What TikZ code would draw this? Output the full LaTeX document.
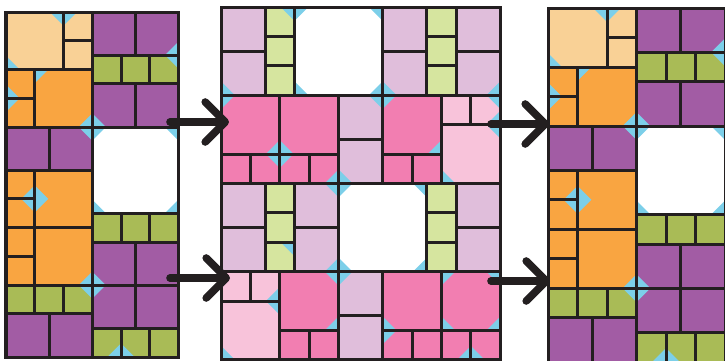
\documentclass[tikz,border=0pt]{standalone}
\usepackage{tikz}
\usetikzlibrary{arrows.meta}

\definecolor{peach}{HTML}{F9D196}
\definecolor{orng}{HTML}{F9A541}
\definecolor{purp}{HTML}{A25CA4}
\definecolor{olive}{HTML}{A9BB56}
\definecolor{corner}{HTML}{7CCFE9}
\definecolor{lilac}{HTML}{E0BEDB}
\definecolor{lime}{HTML}{D6E59F}
\definecolor{rose}{HTML}{F27EB1}
\definecolor{blush}{HTML}{F8C3DA}
\definecolor{seamc}{HTML}{231F20}

% cells of the side block: colour/x1/y1/x2/y2 (units, y down)
\def\sidecells{peach/0/0/2/2, peach/2/0/3/1, peach/2/1/3/2,%
  orng/0/2/1/3, orng/0/3/1/4, orng/1/2/3/4,%
  purp/0/4/1.5/5.5, purp/1.5/4/3/5.5,%
  orng/0/5.5/1/6.5, orng/0/6.5/1/7.5, orng/1/5.5/3/7.5,%
  orng/0/7.5/1/8.5, orng/0/8.5/1/9.5, orng/1/7.5/3/9.5,%
  olive/0/9.5/1/10.5, olive/1/9.5/2/10.5, olive/2/9.5/3/10.5,%
  purp/0/10.5/1.5/12, purp/1.5/10.5/3/12,%
  purp/3/0/4.5/1.5, purp/4.5/0/6/1.5,%
  olive/3/1.5/4/2.5, olive/4/1.5/5/2.5, olive/5/1.5/6/2.5,%
  purp/3/2.5/4.5/4, purp/4.5/2.5/6/4,%
  white/3/4/6/7,%
  olive/3/7/4/8, olive/4/7/5/8, olive/5/7/6/8,%
  purp/3/8/4.5/9.5, purp/4.5/8/6/9.5,%
  purp/3/9.5/4.5/11, purp/4.5/9.5/6/11,%
  olive/3/11/4/12, olive/4/11/5/12, olive/5/11/6/12}
% corner triangles: x/y/dx/dy
\def\sidetris{2/0/-1/1, 2/0/1/1, 0/2/1/-1, 0/3/1/-1, 0/3/1/1, 1/2/1/1,%
  3/4/-1/-1, 3/4/-1/1, 3/4/1/-1, 3/4/1/1, 6/4/-1/1, 6/1.5/-1/-1, 6/1.5/-1/1,%
  1/6.5/-1/-1, 1/6.5/-1/1, 1/6.5/1/-1, 1/6.5/1/1, 3/7/1/-1, 6/7/-1/-1,%
  3/9.5/-1/-1, 3/9.5/-1/1, 3/9.5/1/-1, 3/9.5/1/1, 4/12/-1/-1, 4/12/1/-1}

% cells of the middle block
\def\midcells{lilac/0/0/1.5/1.5, lilac/0/1.5/1.5/3,%
  lime/1.5/0/2.5/1, lime/1.5/1/2.5/2, lime/1.5/2/2.5/3,%
  white/2.5/0/5.5/3,%
  lilac/5.5/0/7/1.5, lilac/5.5/1.5/7/3,%
  lime/7/0/8/1, lime/7/1/8/2, lime/7/2/8/3,%
  lilac/8/0/9.5/1.5, lilac/8/1.5/9.5/3,%
  rose/0/3/2/5, rose/2/3/4/5,%
  rose/0/5/1/6, rose/1/5/2/6, rose/2/5/3/6, rose/3/5/4/6,%
  lilac/4/3/5.5/4.5, lilac/4/4.5/5.5/6,%
  rose/5.5/3/7.5/5, rose/5.5/5/6.5/6, rose/6.5/5/7.5/6,%
  blush/7.5/3/8.5/4, blush/8.5/3/9.5/4, blush/7.5/4/9.5/6,%
  lilac/0/6/1.5/7.5, lilac/0/7.5/1.5/9,%
  lime/1.5/6/2.5/7, lime/1.5/7/2.5/8, lime/1.5/8/2.5/9,%
  lilac/2.5/6/4/7.5, lilac/2.5/7.5/4/9,%
  white/4/6/7/9,%
  lime/7/6/8/7, lime/7/7/8/8, lime/7/8/8/9,%
  lilac/8/6/9.5/7.5, lilac/8/7.5/9.5/9,%
  blush/0/9/1/10, blush/1/9/2/10, blush/0/10/2/12,%
  rose/2/9/4/11, rose/2/11/3/12, rose/3/11/4/12,%
  lilac/4/9/5.5/10.5, lilac/4/10.5/5.5/12,%
  rose/5.5/9/7.5/11, rose/7.5/9/9.5/11,%
  rose/5.5/11/6.5/12, rose/6.5/11/7.5/12, rose/7.5/11/8.5/12, rose/8.5/11/9.5/12}
\def\midtris{2.5/0/-1/1, 2.5/0/1/1, 2.5/3/1/-1, 5.5/0/-1/1,%
  5.5/3/-1/-1, 5.5/3/1/-1, 5.5/3/-1/1, 5.5/3/1/1, 0/3/1/-1, 0/3/1/1,%
  2/5/-1/-1, 2/5/1/-1, 2/5/-1/1, 2/5/1/1, 9.5/3/-1/-1, 9.5/3/-1/1,%
  7.5/5/-1/-1, 9.5/4/-1/-1, 9.5/4/-1/1, 7.5/6/1/-1,%
  4/6/-1/-1, 4/6/1/-1, 4/6/-1/1, 4/6/1/1, 7/6/-1/1, 2.5/8/-1/1,%
  4/9/-1/-1, 4/9/1/-1, 4/9/-1/1, 4/9/1/1, 7/9/-1/-1,%
  2/10/-1/-1, 2/10/-1/1, 0/12/1/-1, 4/11/-1/-1, 5.5/11/1/-1, 5.5/11/1/1,%
  7.5/9/1/1, 9.5/9/-1/1, 7.5/11/1/-1, 9.5/11/-1/-1, 8.5/12/-1/-1, 8.5/12/1/-1}

\newcommand\patch[2]{%
  \foreach \col/\xa/\ya/\xb/\yb in #1 {\fill[\col] (\xa,\ya) rectangle (\xb,\yb);}
  \foreach \px/\py/\dx/\dy in #2 {\fill[corner] (\px,\py) -- ++(\dx*0.47,0) -- ++(-\dx*0.47,\dy*0.47) -- cycle;}
  \foreach \col/\xa/\ya/\xb/\yb in #1 {\draw[seam] (\xa,\ya) rectangle (\xb,\yb);}}

\begin{document}
\begin{tikzpicture}[x=0.5pt, y=-0.5pt,
  seam/.style={draw=seamc, line width=1.5pt},
  arrow/.style={seamc, line width=3.8pt, line cap=round,
                -{Straight Barb[length=10pt, width=20pt, round]}}]
  \clip (0,0) rectangle (725,360);
  \fill[white] (0,0) rectangle (725,360);
  % left block
  \begin{scope}[xshift=3pt, yshift=-6pt, x=14.375pt, y=-14.375pt]
    \patch{\sidecells}{\sidetris}
  \end{scope}
  % middle block
  \begin{scope}[xshift=110.5pt, yshift=-3.5pt, x=14.7pt, y=-14.7pt]
    \patch{\midcells}{\midtris}
  \end{scope}
  % right block
  \begin{scope}[xshift=274pt, yshift=-4pt, x=14.75pt, y=-14.75pt]
    \patch{\sidecells}{\sidetris}
  \end{scope}
  % arrows
  \coordinate (leftA) at (170,122);
  \coordinate (midA) at (229,122);
  \coordinate (leftB) at (170,278);
  \coordinate (midB) at (230,278);
  \coordinate (midC) at (491,124);
  \coordinate (rightC) at (549,124);
  \coordinate (midD) at (491,281);
  \coordinate (rightD) at (550,281);
  \draw[arrow] (leftA) -- (midA);
  \draw[arrow] (leftB) -- (midB);
  \draw[arrow] (midC) -- (rightC);
  \draw[arrow] (midD) -- (rightD);
\end{tikzpicture}
\end{document}
